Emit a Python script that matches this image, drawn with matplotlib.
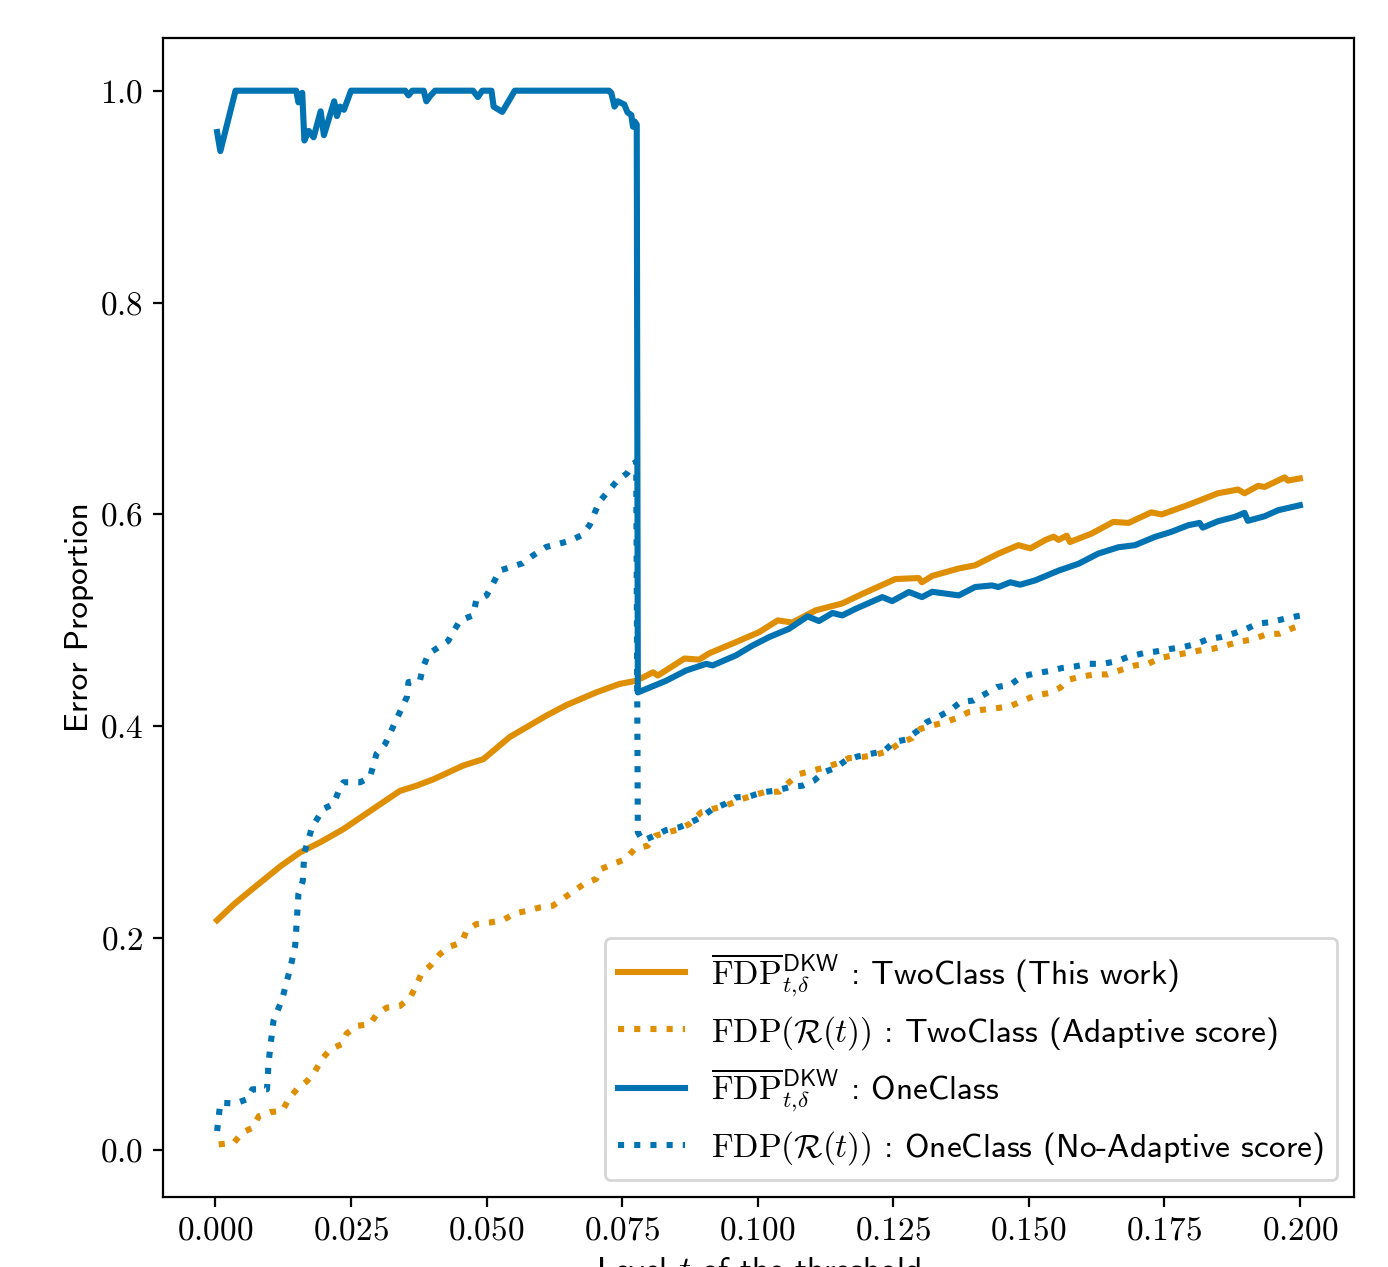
import numpy as np
import matplotlib
matplotlib.use("Agg")
import matplotlib.pyplot as plt
from matplotlib.ticker import FuncFormatter

plt.rcParams['font.family'] = ['cmss10', 'DejaVu Sans']
plt.rcParams['mathtext.fontset'] = 'cm'
plt.rcParams['axes.unicode_minus'] = False

ORANGE = '#DE8F05'
BLUE = '#0173B2'

# TwoClass, DKW bound (solid orange)
t_two_dkw = [0.0003, 0.0034, 0.0067, 0.012, 0.0156, 0.0193, 0.0236, 0.0285, 0.034, 0.0371,
             0.0402, 0.0457, 0.0494, 0.0543, 0.061, 0.0647, 0.0702, 0.0745, 0.0776, 0.0807,
             0.0816, 0.0865, 0.0892, 0.0911, 0.096, 0.1003, 0.1037, 0.1064, 0.1107, 0.1156,
             0.1193, 0.1254, 0.1297, 0.1303, 0.1322, 0.1371, 0.1401, 0.1444, 0.1481, 0.1503,
             0.1531, 0.1546, 0.1555, 0.157, 0.1576, 0.1616, 0.1656, 0.1684, 0.1726, 0.1745,
             0.1794, 0.1849, 0.1886, 0.1898, 0.1923, 0.1935, 0.1972, 0.1978, 0.2]
v_two_dkw = [0.217, 0.232, 0.246, 0.268, 0.281, 0.2905, 0.303, 0.320, 0.339, 0.344,
             0.350, 0.363, 0.369, 0.390, 0.410, 0.420, 0.432, 0.440, 0.443, 0.451,
             0.448, 0.464, 0.463, 0.469, 0.4795, 0.489, 0.500, 0.498, 0.5095, 0.516,
             0.525, 0.539, 0.540, 0.536, 0.542, 0.549, 0.552, 0.563, 0.571, 0.568,
             0.576, 0.579, 0.576, 0.580, 0.574, 0.582, 0.593, 0.592, 0.602, 0.600,
             0.609, 0.620, 0.6235, 0.620, 0.627, 0.626, 0.635, 0.632, 0.634]

# TwoClass, realised FDP (dotted orange)
t_two_fdp = [0.0006, 0.0034, 0.0049, 0.0068, 0.008, 0.0101, 0.0123, 0.0135, 0.015, 0.0169,
             0.0184, 0.0196, 0.0212, 0.0233, 0.0242, 0.026, 0.0285, 0.0297, 0.0316, 0.034,
             0.0359, 0.0371, 0.038, 0.0396, 0.0414, 0.0432, 0.0454, 0.0463, 0.0481, 0.0506,
             0.053, 0.0552, 0.0576, 0.0598, 0.0622, 0.0644, 0.0662, 0.0681, 0.0702, 0.0711,
             0.0736, 0.0757, 0.0773, 0.0797, 0.0812, 0.0856, 0.0874, 0.0896, 0.0917, 0.0941,
             0.0966, 0.099, 0.1012, 0.104, 0.1058, 0.1077, 0.1101, 0.1125, 0.1147, 0.1168,
             0.1193, 0.1217, 0.1242, 0.126, 0.1285, 0.13, 0.1322, 0.1346, 0.1368, 0.1389,
             0.1414, 0.1441, 0.1466, 0.1487, 0.1512, 0.1536, 0.1558, 0.1573, 0.1597, 0.1622,
             0.1646, 0.1671, 0.1696, 0.172, 0.1742, 0.1766, 0.1791, 0.1815, 0.184, 0.1864,
             0.1889, 0.1913, 0.1938, 0.1963, 0.1987, 0.2]
v_two_fdp = [0.0054, 0.0069, 0.0164, 0.021, 0.032, 0.0359, 0.0369, 0.048, 0.0574, 0.0652,
             0.0747, 0.0857, 0.0952, 0.100, 0.110, 0.1172, 0.1188, 0.128, 0.1345, 0.136,
             0.144, 0.156, 0.1667, 0.1739, 0.185, 0.192, 0.196, 0.207, 0.2133, 0.2148,
             0.217, 0.2234, 0.226, 0.229, 0.2306, 0.2385, 0.2448, 0.2517, 0.2559, 0.2653,
             0.2706, 0.2748, 0.2842, 0.2873, 0.2968, 0.303, 0.3078, 0.319, 0.322, 0.325,
             0.3305, 0.3346, 0.3378, 0.3384, 0.3472, 0.355, 0.3582, 0.3614, 0.365, 0.370,
             0.371, 0.373, 0.377, 0.3835, 0.389, 0.3976, 0.4008, 0.404, 0.408, 0.4134,
             0.4156, 0.4172, 0.419, 0.4238, 0.429, 0.4313, 0.4364, 0.444, 0.447, 0.449,
             0.449, 0.4534, 0.4575, 0.459, 0.4644, 0.467, 0.4692, 0.4716, 0.4733, 0.4764,
             0.480, 0.482, 0.4868, 0.4875, 0.4928, 0.4950]

# OneClass, DKW bound (solid blue)
t_one_dkw = [0.0003, 0.0009, 0.0037, 0.0149, 0.0153, 0.016, 0.0164, 0.0172, 0.0181, 0.0194,
             0.0200, 0.0219, 0.0224, 0.0230, 0.0237, 0.025, 0.035, 0.0356, 0.0363, 0.0384,
             0.0389, 0.0396, 0.0405, 0.0475, 0.0484, 0.0492, 0.0509, 0.0513, 0.0529, 0.0552,
             0.0726, 0.0730, 0.0736, 0.0742, 0.0754, 0.0760, 0.0767, 0.0770, 0.0773, 0.0777,
             0.0779, 0.0831, 0.0868, 0.0905, 0.0917, 0.096, 0.0991, 0.1021, 0.1058, 0.1092,
             0.1113, 0.1138, 0.1156, 0.1181, 0.123, 0.1248, 0.1279, 0.1303, 0.1322, 0.1371,
             0.1401, 0.1432, 0.1444, 0.1466, 0.1484, 0.1512, 0.1555, 0.1592, 0.1628, 0.1665,
             0.1696, 0.1732, 0.1763, 0.1794, 0.1815, 0.1821, 0.1849, 0.188, 0.1898, 0.1904,
             0.1935, 0.196, 0.2]
v_one_dkw = [0.961, 0.943, 1.0, 1.0, 0.989, 0.998, 0.953, 0.962, 0.956, 0.9805,
             0.958, 0.990, 0.976, 0.985, 0.982, 1.0, 1.0, 0.9956, 1.0, 1.0,
             0.990, 0.995, 1.0, 1.0, 0.994, 1.0, 1.0, 0.985, 0.980, 1.0,
             1.0, 0.998, 0.985, 0.990, 0.987, 0.9795, 0.977, 0.966, 0.971, 0.968,
             0.432, 0.443, 0.4527, 0.459, 0.4575, 0.467, 0.4764, 0.4842, 0.4921, 0.5038,
             0.4994, 0.507, 0.5047, 0.511, 0.522, 0.5182, 0.5268, 0.522, 0.527, 0.5236,
             0.5315, 0.533, 0.5315, 0.536, 0.5337, 0.5378, 0.547, 0.5535, 0.563, 0.569,
             0.571, 0.5787, 0.5836, 0.5898, 0.592, 0.5876, 0.5936, 0.5977, 0.6015, 0.594,
             0.5983, 0.604, 0.6087]

# OneClass, realised FDP (dotted blue)
t_one_fdp = [0.0003, 0.0009, 0.0037, 0.0058, 0.0068, 0.0095, 0.0098, 0.0101, 0.0107, 0.0114,
             0.0123, 0.0135, 0.0141, 0.0147, 0.015, 0.0153, 0.0161, 0.0164, 0.017, 0.0178,
             0.0199, 0.0218, 0.023, 0.0236, 0.0267, 0.0285, 0.0297, 0.0313, 0.034, 0.0353,
             0.0356, 0.0377, 0.0383, 0.0393, 0.0429, 0.0451, 0.0475, 0.0481, 0.05, 0.0512,
             0.0524, 0.0567, 0.0586, 0.061, 0.0653, 0.0675, 0.069, 0.0699, 0.0708, 0.0739,
             0.0760, 0.0770, 0.0776, 0.0779, 0.0788, 0.081, 0.0831, 0.0856, 0.0877, 0.0896,
             0.0917, 0.0941, 0.096, 0.0984, 0.1009, 0.1033, 0.1058, 0.1083, 0.1104, 0.1122,
             0.1144, 0.1162, 0.1184, 0.1208, 0.1233, 0.1251, 0.1273, 0.1294, 0.1312, 0.1334,
             0.1355, 0.1374, 0.1398, 0.142, 0.1441, 0.1466, 0.1487, 0.1512, 0.1536, 0.1561,
             0.1585, 0.161, 0.1637, 0.1662, 0.1686, 0.1711, 0.1735, 0.176, 0.1785, 0.181,
             0.1831, 0.1855, 0.188, 0.1901, 0.1923, 0.1947, 0.1972, 0.2]
v_one_fdp = [0.018, 0.0447, 0.044, 0.048, 0.0574, 0.0574, 0.0825, 0.0967, 0.122, 0.131,
             0.1424, 0.166, 0.1786, 0.1928, 0.2165, 0.2417, 0.254, 0.281, 0.2905, 0.3047,
             0.322, 0.3268, 0.3425, 0.3472, 0.3472, 0.352, 0.374, 0.3834, 0.4133, 0.4276,
             0.4418, 0.443, 0.456, 0.4685, 0.4805, 0.500, 0.5047, 0.5189, 0.5236, 0.5348,
             0.547, 0.554, 0.5614, 0.5693, 0.575, 0.5803, 0.5898, 0.601, 0.612, 0.6307,
             0.6393, 0.6474, 0.650, 0.300, 0.292, 0.2968, 0.302, 0.3048, 0.3095, 0.3142,
             0.322, 0.327, 0.333, 0.3337, 0.3378, 0.3393, 0.3425, 0.344, 0.3488, 0.3567,
             0.3608, 0.3677, 0.3715, 0.374, 0.3766, 0.385, 0.3875, 0.3954, 0.404, 0.4093,
             0.415, 0.4229, 0.4244, 0.4307, 0.437, 0.4392, 0.447, 0.450, 0.452, 0.455,
             0.4565, 0.459, 0.459, 0.4615, 0.466, 0.469, 0.4707, 0.473, 0.4748, 0.478,
             0.4824, 0.4843, 0.488, 0.492, 0.497, 0.4984, 0.5016, 0.5045]

labels = [
    r'$\overline{\mathrm{FDP}}_{t,\!\delta}^{\mathsf{DKW}}$ : TwoClass (This work)',
    r'$\mathrm{FDP}(\mathcal{R}(t))$ : TwoClass (Adaptive score)',
    r'$\overline{\mathrm{FDP}}_{t,\!\delta}^{\mathsf{DKW}}$ : OneClass',
    r'$\mathrm{FDP}(\mathcal{R}(t))$ : OneClass (No-Adaptive score)',
]

fig = plt.figure(figsize=(6.94, 6.335), dpi=200)
ax = fig.add_axes([0.1174, 0.0552, 0.8581, 0.9148])

lw = 2.2
ax.plot(t_two_dkw, v_two_dkw, color=ORANGE, lw=lw, label=labels[0])
ax.plot(t_two_fdp, v_two_fdp, color=ORANGE, lw=lw, ls=':', label=labels[1])
ax.plot(t_one_dkw, v_one_dkw, color=BLUE, lw=lw, label=labels[2])
ax.plot(t_one_fdp, v_one_fdp, color=BLUE, lw=lw, ls=':', label=labels[3])

ax.set_xticks([0.0, 0.025, 0.05, 0.075, 0.1, 0.125, 0.15, 0.175, 0.2])
ax.set_yticks([0.0, 0.2, 0.4, 0.6, 0.8, 1.0])
ax.xaxis.set_major_formatter(FuncFormatter(lambda x, p: '$%.3f$' % x))
ax.yaxis.set_major_formatter(FuncFormatter(lambda y, p: '$%.1f$' % y))
ax.tick_params(labelsize=12)

ax.set_xlabel('Level $t$ of the threshold', fontsize=12)
ax.set_ylabel('Error Proportion', fontsize=12, labelpad=2)

ax.legend(loc='lower right', fontsize=12, labelspacing=0.45)

fig.savefig('out.png', dpi=200)
